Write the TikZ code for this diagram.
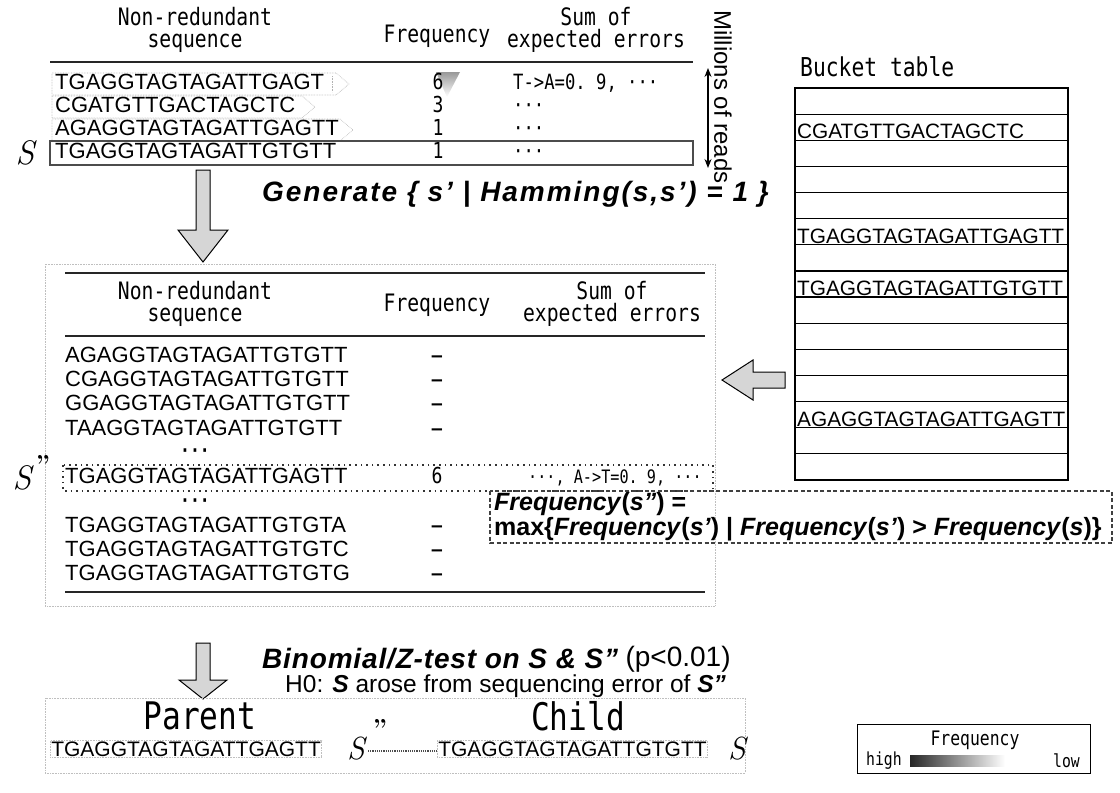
\documentclass[tikz,border=0pt]{standalone}
\usepackage{fontspec}
\newfontfamily\arial{Liberation Sans}
\newfontfamily\arialsp[LetterSpace=7]{Liberation Sans}
\newfontfamily\arialsm[LetterSpace=3]{Liberation Sans}
\newfontfamily\gothic[FakeStretch=0.82]{DejaVu Sans Mono}
\usetikzlibrary{arrows.meta}
\newcommand\setfs[1]{\fontsize{#1}{#1}\selectfont}
\newcommand\mdots{\gothic ···}

\tikzset{
  hdr/.style={font=\gothic\setfs{24}, align=center, inner sep=0pt},
  cell/.style={inner sep=0pt, text height=13pt, text depth=3pt},
  seqtxt/.style={cell, font=\arial\setfs{22}, anchor=west},
  bucktxt/.style={font=\arial\setfs{20.8}, anchor=south west, inner sep=1pt},
  numtxt/.style={cell, font=\gothic\setfs{22}},
  dashtxt/.style={cell, font=\arial\bfseries\setfs{21}},
  errtxt/.style={cell, font=\gothic\setfs{21}, anchor=west},
  dotstxt/.style={cell, font=\gothic\bfseries\setfs{20}},
  thickrule/.style={line width=2.4pt, black!85},
  ptr/.style={draw=black!30, densely dotted, line width=0.6pt},
  hollow/.style={draw=black, line width=1pt, fill=black!16},
  bigS/.style={font=\itshape\setfs{34}, inner sep=0pt},
  quote/.style={font=\bfseries\setfs{26}, inner sep=0pt},
  formula/.style={font=\arialsp\bfseries\itshape\setfs{28}, anchor=west, inner sep=0pt},
  deftxt/.style={font=\arial\bfseries\setfs{25}, anchor=west, inner sep=0pt},
  faintbox/.style={draw=black!25, densely dotted, line width=0.6pt},
}

\begin{document}
\begin{tikzpicture}[x=1pt,y=-1pt]
\useasboundingbox (0,0) rectangle (1120,793);
\fill[white] (0,0) rectangle (1120,793);

% ---------------- first table: distinct reads ----------------
\node[hdr] (t1h1) at (195,30) {Non-redundant\\[-2pt]sequence};
\node[hdr] (t1h2) at (437,36) {Frequency};
\node[hdr] (t1h3) at (596,30) {Sum of\\[-2pt]expected errors};
\draw[thickrule] (50,62) -- (693,62);

% row outlines with pointer ends
\draw[ptr] (52,73) -- (336,73) -- (349,84) -- (336,95) -- (52,95) -- cycle;
\draw[ptr] (332,76) -- (332,92);
\draw[ptr] (52,96) -- (302,96) -- (315,107) -- (302,118) -- (52,118) -- cycle;
\draw[ptr] (52,119) -- (340,119) -- (353,130) -- (340,141) -- (52,141) -- cycle;
% frequency shading of the top row
\shade[top color=black!40, bottom color=white] (436,72) -- (460,72) -- (447,97) -- cycle;

\node[seqtxt] (r1s) at (55,84) {TGAGGTAGTAGATTGAGT};
\node[seqtxt] (r2s) at (55,107) {CGATGTTGACTAGCTC};
\node[seqtxt] (r3s) at (55,130) {AGAGGTAGTAGATTGAGTT};
\node[seqtxt] (r4s) at (55,153) {TGAGGTAGTAGATTGTGTT};
\node[numtxt] (r1f) at (438,84) {6};
\node[numtxt] (r2f) at (438,107) {3};
\node[numtxt] (r3f) at (438,130) {1};
\node[numtxt] (r4f) at (438,153) {1};
\node[errtxt] (r1e) at (513,84) {T->A=0.~9,~\mdots};
\node[errtxt] (r2e) at (513,107) {\mdots};
\node[errtxt] (r3e) at (513,130) {\mdots};
\node[errtxt] (r4e) at (513,153) {\mdots};
\draw[line width=2.6pt, black!70] (50,141) rectangle (693,165);
\node[bigS] (s1) at (25,153) {S};

% number of reads
\coordinate (mtop) at (708,68);
\coordinate (mbot) at (708,168);
\draw[line width=1.3pt, {Stealth[length=9pt,width=7pt]}-{Stealth[length=9pt,width=7pt]}] (mtop) -- (mbot);
\node[font=\arial\setfs{24}, rotate=-90, inner sep=0pt] (mill) at (723,97) {Millions of reads};

% ---------------- bucket table ----------------
\node[font=\gothic\setfs{26}, anchor=west, inner sep=0pt] (btitle) at (800,67) {Bucket table};
\draw[line width=1.2pt] (795,88) rectangle (1068,480);
\foreach \k in {1,...,14} \draw[line width=1.2pt] (795,88+26.13*\k) -- (1068,88+26.13*\k);
\node[bucktxt] (b2) at (796,140.3) {CGATGTTGACTAGCTC};
\node[bucktxt] (b6) at (796,244.8) {TGAGGTAGTAGATTGAGTT};
\node[bucktxt] (b8) at (796,297.0) {TGAGGTAGTAGATTGTGTT};
\node[bucktxt] (b13) at (796,427.7) {AGAGGTAGTAGATTGAGTT};

% ---------------- step arrow and neighbour generation ----------------
\draw[hollow] (196,170) -- (210,170) -- (210,230) -- (228,230) -- (203,262) -- (178,230) -- (196,230) -- cycle;
\node[formula] (gen) at (262,194) {Generate \{ s’ | Hamming(s,s’) = 1 \}};

% lookup arrow from the bucket table
\draw[hollow] (785,372) -- (753,372) -- (753,360) -- (722,380) -- (753,400) -- (753,388) -- (785,388) -- cycle;

% ---------------- second table: Hamming-1 neighbours ----------------
\draw[faintbox] (45,264) rectangle (715,606);
\draw[thickrule] (65,273) -- (705,273);
\node[hdr] (t2h1) at (195,304) {Non-redundant\\[-2pt]sequence};
\node[hdr] (t2h2) at (437,305) {Frequency};
\node[hdr] (t2h3) at (612,304) {Sum of\\[-2pt]expected errors};
\draw[thickrule] (65,336) -- (705,336);

\node[seqtxt] (n1) at (65,357) {AGAGGTAGTAGATTGTGTT};
\node[seqtxt] (n2) at (65,381) {CGAGGTAGTAGATTGTGTT};
\node[seqtxt] (n3) at (65,405.5) {GGAGGTAGTAGATTGTGTT};
\node[seqtxt] (n4) at (65,430) {TAAGGTAGTAGATTGTGTT};
\node[dotstxt] (d1) at (195,452) {···};
\node[seqtxt] (n5) at (65,478) {TGAGGTAGTAGATTGAGTT};
\node[dotstxt] (d2) at (195,502) {···};
\node[seqtxt] (n6) at (65,527) {TGAGGTAGTAGATTGTGTA};
\node[seqtxt] (n7) at (65,551) {TGAGGTAGTAGATTGTGTC};
\node[seqtxt] (n8) at (65,575) {TGAGGTAGTAGATTGTGTG};
\foreach \y/\n in {357/1,381/2,405.5/3,430/4,527/6,551/7,575/8}
  \node[dashtxt] (f\n) at (437,\y) {–};
\node[numtxt] (f5) at (437,478) {6};
\node[errtxt, font=\gothic\setfs{18.5}] (e5) at (528,478) {\mdots, A->T=0.~9,~\mdots};
\draw[thickrule] (65,592) -- (705,592);

% parent candidate row
\draw[line width=1.6pt, black!80, dash pattern=on 1.6pt off 4pt] (63,465) rectangle (713,491);
\node[bigS] (s2) at (22,478) {S};
\node[quote] (s2q) at (43,464) {''};

% definition of the parent frequency
\draw[line width=1.2pt, black!75, dash pattern=on 4pt off 2.5pt] (490,491) rectangle (1112,543);
\node[deftxt] (def1) at (494,504) {\textit{Frequency}(\textit{s”}) =};
\node[deftxt] (def2) at (494,529) {max\{\textit{Frequency}(\textit{s’}) | \textit{Frequency}(\textit{s’}) > \textit{Frequency}(\textit{s})\}};

% ---------------- test step ----------------
\draw[hollow] (196,643) -- (210,643) -- (210,680) -- (227,680) -- (203,699) -- (179,680) -- (196,680) -- cycle;
\node[font=\arialsm\bfseries\itshape\setfs{28}, anchor=west, inner sep=0pt] (test) at (262,659) {Binomial/Z-test on S \& S”};
\node[font=\arial\setfs{28}, anchor=west, inner sep=0pt] (pval) at ([xshift=7pt]test.east) {(p<0.01)};
\node[font=\arial\setfs{24.5}, anchor=west, inner sep=0pt] (h0) at (285,686) {H0: \textbf{\textit{S}} arose from sequencing error of \textbf{\textit{S”}}};

% ---------------- result ----------------
\draw[faintbox] (45,698) rectangle (745,773);
\node[font=\gothic\setfs{38}, inner sep=0pt] (par) at (200,716) {Parent};
\node[font=\gothic\setfs{38}, inner sep=0pt] (chi) at (578,716) {Child};
\node[font=\arial\setfs{21}, anchor=west, inner sep=1pt, faintbox] (pseq) at (50,749) {TGAGGTAGTAGATTGAGTT};
\node[bigS, font=\itshape\setfs{32}] (ps) at (356,749) {S};
\node[quote] (psq) at (380,728) {''};
\node[font=\arial\setfs{21}, anchor=west, inner sep=1pt, faintbox] (cseq) at (437,749) {TGAGGTAGTAGATTGTGTT};
\node[bigS, font=\itshape\setfs{32}] (cs) at (737,749) {S};
\draw[densely dotted, line width=1.2pt, black!70] (ps.east) ++(3,2) coordinate (lk1) -- (cseq.west |- lk1);

% ---------------- legend ----------------
\draw[line width=1pt] (857,724) rectangle (1090,773);
\node[font=\gothic\setfs{20}, inner sep=0pt] (lgt) at (975,740) {Frequency};
\node[font=\gothic\setfs{18}, anchor=west, inner sep=0pt] (lhi) at (866,761) {high};
\shade[left color=black!85, right color=white] (910,755) rectangle (1005,766);
\node[font=\gothic\setfs{18}, anchor=east, inner sep=0pt] (llo) at (1080,761) {low};
\end{tikzpicture}
\end{document}
